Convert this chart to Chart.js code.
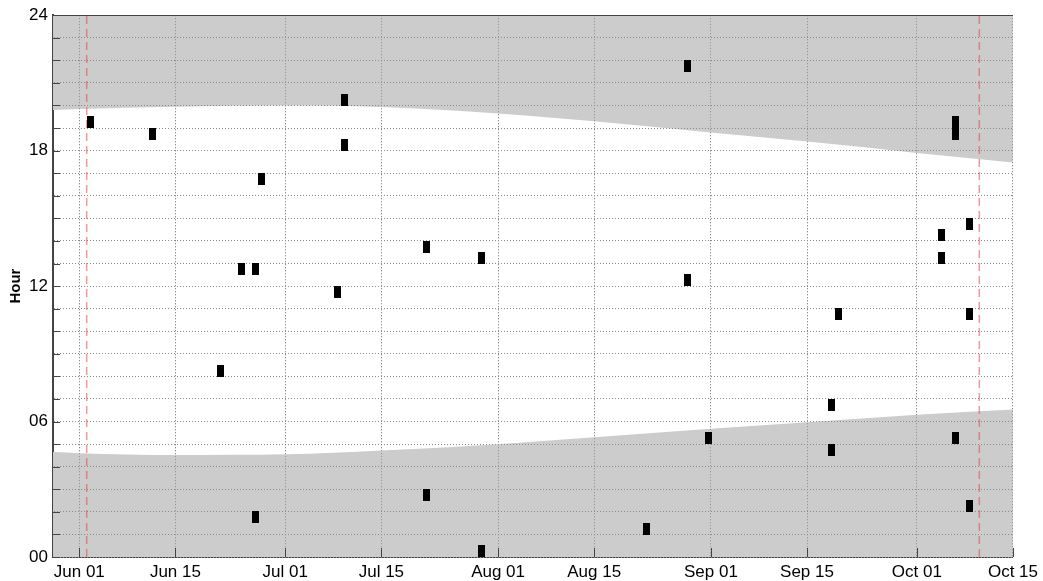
<!DOCTYPE html>
<html>
<head>
<meta charset="utf-8">
<script src="https://cdn.jsdelivr.net/npm/chart.js@4.4.1/dist/chart.umd.min.js"></script>
<style>
  html, body { margin: 0; padding: 0; background: #fff; }
</style>
</head>
<body>
<canvas id="chart" width="1043" height="581"></canvas>
<script>
// Event times by day. x values are days counted from Jun 01 (day 0).

const xTickDays = [0, 14, 30, 44, 61, 75, 92, 106, 122, 136];
const xTickLabels = ['Jun 01', 'Jun 15', 'Jul 01', 'Jul 15', 'Aug 01', 'Aug 15', 'Sep 01', 'Sep 15', 'Oct 01', 'Oct 15'];
const yTickHours = [0, 6, 12, 18, 24];
const yTickLabels = ['00', '06', '12', '18', '24'];

const eventDays = [1.6, 10.6, 20.6, 23.6, 25.6, 26.6, 25.6, 37.6, 38.6, 38.6,
  50.6, 50.6, 58.6, 58.6, 82.6, 88.6, 88.6, 91.6, 109.6, 109.6,
  110.6, 125.6, 125.6, 127.6, 127.6, 127.6, 129.6, 129.6, 129.6];
const eventHours = [19.25, 18.75, 8.25, 12.75, 12.75, 16.75, 1.75, 11.75, 20.25, 18.25,
  13.75, 2.75, 13.25, 0.25, 1.25, 21.75, 12.25, 5.25, 6.75, 4.75,
  10.75, 14.25, 13.25, 19.25, 18.75, 5.25, 14.75, 10.75, 2.25];

// night shading: sunrise / sunset hour read at a few dates
const sunDays = [-3.83, 0, 14, 30, 44, 61, 75, 92, 106, 122, 136];
const sunriseHours = [4.65, 4.6, 4.52, 4.55, 4.72, 5.0, 5.3, 5.68, 5.97, 6.3, 6.53];
const sunsetHours = [19.8, 19.85, 19.95, 20.0, 19.93, 19.65, 19.3, 18.8, 18.4, 17.9, 17.47];

// red dashed markers
const markerDays = [1.08, 131.1];

const X_MIN = -3.83, X_MAX = 136;
const FONT = "'Liberation Sans', Arial, sans-serif";
const NIGHT = '#cccccc';
const GRID = '#8a8a8a';
const AXIS = '#444444';

// tall black rectangle used as point marker
const rectMark = document.createElement('canvas');
rectMark.width = 7;
rectMark.height = 12;
const g = rectMark.getContext('2d');
g.fillStyle = '#000';
g.fillRect(0, 0, 7, 12);

function bandData(hours) {
  return sunDays.map((d, i) => ({x: d, y: hours[i]}));
}

const markerSets = markerDays.map(d => ({
  type: 'line',
  data: [{x: d, y: 0}, {x: d, y: 24}],
  borderColor: 'rgba(230,70,70,0.55)',
  borderWidth: 1.5,
  borderDash: [8, 5],
  pointRadius: 0,
  fill: false
}));

const datasets = [
  {
    type: 'scatter',
    data: eventDays.map((d, i) => ({x: d, y: eventHours[i]})),
    pointStyle: rectMark,
    pointRadius: 4,
    showLine: false
  },
  ...markerSets,
  {
    type: 'line',
    data: bandData(sunsetHours),
    fill: 'end',
    backgroundColor: NIGHT,
    borderColor: 'rgba(0,0,0,0)',
    borderWidth: 1,
    pointRadius: 0,
    cubicInterpolationMode: 'monotone'
  },
  {
    type: 'line',
    data: bandData(sunriseHours),
    fill: 'start',
    backgroundColor: NIGHT,
    borderColor: 'rgba(0,0,0,0)',
    borderWidth: 1,
    pointRadius: 0,
    cubicInterpolationMode: 'monotone'
  }
];
const sunsetIndex = datasets.length - 2;

// grid over the shading, inward tick marks and top frame line
const overlay = {
  id: 'overlay',
  afterDatasetDraw(chart, args) {
    if (args.index !== sunsetIndex) return;
    chart.scales.x.drawGrid(chart.chartArea);
    chart.scales.y.drawGrid(chart.chartArea);
  },
  afterDraw(chart) {
    const {ctx, chartArea: a, scales: {x, y}} = chart;
    ctx.save();
    ctx.strokeStyle = AXIS;
    ctx.lineWidth = 1;
    ctx.beginPath();
    for (let h = 0; h <= 24; h++) {
      const py = Math.round(y.getPixelForValue(h)) + 0.5;
      ctx.moveTo(a.left, py);
      ctx.lineTo(a.left + 7, py);
    }
    xTickDays.forEach(d => {
      const px = Math.round(x.getPixelForValue(d)) + 0.5;
      ctx.moveTo(px, a.bottom);
      ctx.lineTo(px, a.bottom - 9);
    });
    ctx.moveTo(a.left, Math.round(a.top) + 0.5);
    ctx.lineTo(a.right, Math.round(a.top) + 0.5);
    ctx.stroke();
    ctx.restore();
  }
};

new Chart(document.getElementById('chart'), {
  type: 'line',
  data: {datasets},
  plugins: [overlay],
  options: {
    responsive: false,
    animation: false,
    events: [],
    layout: {padding: {top: 13, right: 30, bottom: 0, left: 0}},
    plugins: {
      legend: {display: false},
      tooltip: {enabled: false}
    },
    scales: {
      x: {
        type: 'linear',
        min: X_MIN,
        max: X_MAX,
        afterBuildTicks: scale => { scale.ticks = xTickDays.map(v => ({value: v})); },
        afterFit: scale => { scale.height = 24; },
        ticks: {
          autoSkip: false,
          maxRotation: 0,
          padding: 5,
          color: '#000',
          font: {family: FONT, size: 17},
          callback: v => xTickLabels[xTickDays.indexOf(v)]
        },
        grid: {color: GRID, lineWidth: 1, drawTicks: false},
        border: {display: true, color: AXIS, width: 2, dash: [1, 2]}
      },
      y: {
        type: 'linear',
        min: 0,
        max: 24,
        afterFit: scale => { scale.width = 53; },
        ticks: {
          stepSize: 1,
          autoSkip: false,
          padding: 5,
          color: '#000',
          font: {family: FONT, size: 17},
          callback: v => {
            const k = yTickHours.indexOf(v);
            return k >= 0 ? yTickLabels[k] : '';
          }
        },
        title: {
          display: true,
          text: 'Hour',
          color: '#000',
          font: {family: FONT, size: 15, weight: 'bold'},
          padding: {top: 7, bottom: 0}
        },
        grid: {color: GRID, lineWidth: 1, drawTicks: false},
        border: {display: true, color: AXIS, width: 2, dash: [1, 2]}
      }
    }
  }
});
</script>
</body>
</html>
